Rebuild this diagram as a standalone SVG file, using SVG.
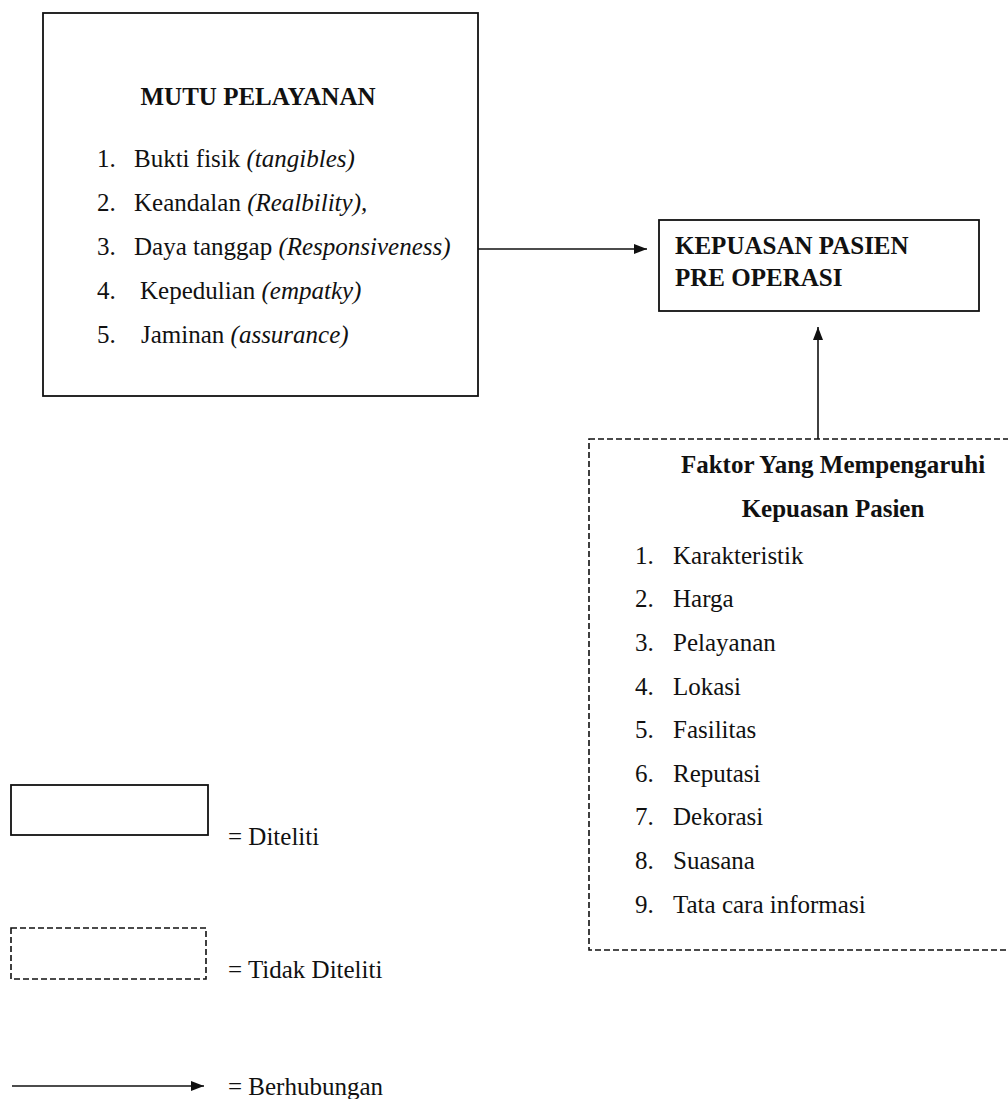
<svg xmlns="http://www.w3.org/2000/svg" width="1008" height="1099" viewBox="0 0 1008 1099">
<defs>
<style>
text{font-family:'Liberation Serif','Times New Roman','DejaVu Serif',serif;font-size:25px;fill:#111}
.b{font-weight:bold}
.i{font-style:italic}
.solid{fill:#fff;stroke:#111;stroke-width:1.8}
.dash{fill:none;stroke:#111;stroke-width:1.6;stroke-dasharray:6 3}
.conn{stroke:#111;stroke-width:1.6;fill:none}
</style>
<marker id="ah" markerUnits="userSpaceOnUse" markerWidth="14" markerHeight="10" refX="13" refY="5" orient="auto">
<path d="M0,0 L13,5 L0,10 Z" fill="#111"/>
</marker>
</defs>
<rect width="1008" height="1099" fill="#fff"/>

<g font-family="Liberation Serif, serif">
<g id="mutu">
<rect class="solid" x="43" y="13" width="435" height="383"/>
<text class="b" x="258" y="105" text-anchor="middle">MUTU PELAYANAN</text>
<text x="97" y="167">1.</text><text x="134" y="167">Bukti fisik <tspan class="i">(tangibles)</tspan></text>
<text x="97" y="211">2.</text><text x="134" y="211">Keandalan <tspan class="i">(Realbility),</tspan></text>
<text x="97" y="255">3.</text><text x="134" y="255">Daya tanggap <tspan class="i">(Responsiveness)</tspan></text>
<text x="97" y="299">4.</text><text x="140" y="299">Kepedulian <tspan class="i">(empatky)</tspan></text>
<text x="97" y="343">5.</text><text x="141" y="343">Jaminan <tspan class="i">(assurance)</tspan></text>
</g>

<g id="kepuasan">
<rect class="solid" x="659" y="220" width="320" height="91"/>
<text class="b" x="675" y="254">KEPUASAN PASIEN</text>
<text class="b" x="675" y="286">PRE OPERASI</text>
</g>

<g id="faktor">
<rect class="dash" x="589" y="439" width="430" height="511"/>
<text class="b" x="833" y="473" text-anchor="middle">Faktor Yang Mempengaruhi</text>
<text class="b" x="833" y="517" text-anchor="middle">Kepuasan Pasien</text>
<text x="635" y="564">1.</text><text x="673" y="564">Karakteristik</text>
<text x="635" y="607">2.</text><text x="673" y="607">Harga</text>
<text x="635" y="651">3.</text><text x="673" y="651">Pelayanan</text>
<text x="635" y="695">4.</text><text x="673" y="695">Lokasi</text>
<text x="635" y="738">5.</text><text x="673" y="738">Fasilitas</text>
<text x="635" y="782">6.</text><text x="673" y="782">Reputasi</text>
<text x="635" y="825">7.</text><text x="673" y="825">Dekorasi</text>
<text x="635" y="869">8.</text><text x="673" y="869">Suasana</text>
<text x="635" y="913">9.</text><text x="673" y="913">Tata cara informasi</text>
</g>

<g id="connectors">
<line class="conn" x1="478" y1="249" x2="647" y2="249" marker-end="url(#ah)"/>
<line class="conn" x1="818" y1="439" x2="818" y2="327" marker-end="url(#ah)"/>
</g>

<g id="legend">
<rect class="solid" x="11" y="785" width="197" height="50"/>
<text x="228" y="845">= Diteliti</text>
<rect class="dash" x="11" y="928" width="195" height="51"/>
<text x="228" y="978">= Tidak Diteliti</text>
<line class="conn" x1="12" y1="1086" x2="204" y2="1086" marker-end="url(#ah)"/>
<text x="228" y="1095">= Berhubungan</text>
</g>
</g>
</svg>
